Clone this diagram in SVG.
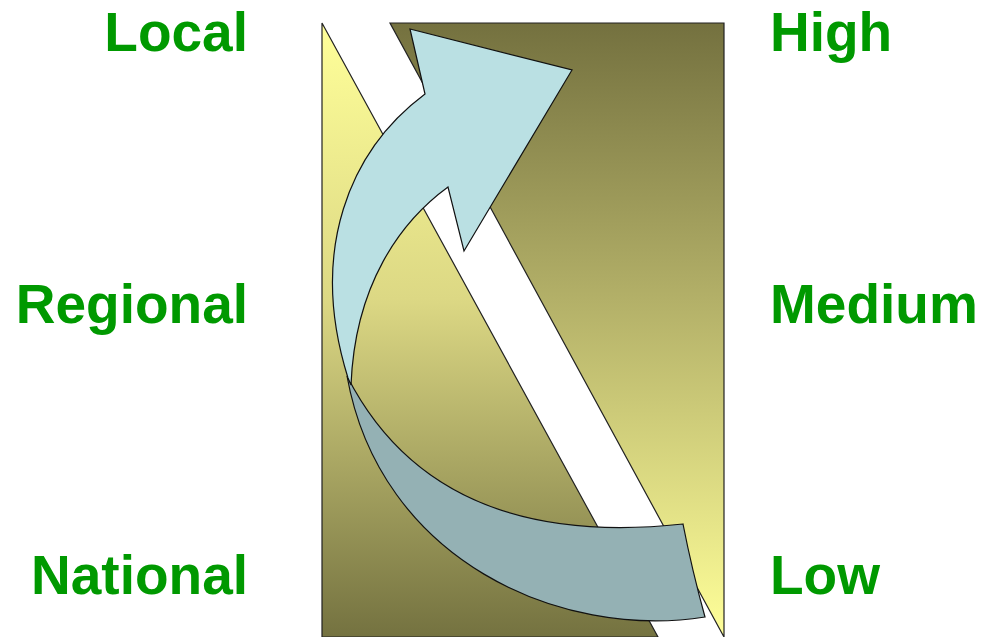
<svg xmlns="http://www.w3.org/2000/svg" width="981" height="637" viewBox="0 0 981 637">
  <defs>
    <linearGradient id="gLeft" gradientUnits="userSpaceOnUse" x1="0" y1="23" x2="0" y2="637">
      <stop offset="0" stop-color="#FFFF99"/>
      <stop offset="0.45" stop-color="#DCD884"/>
      <stop offset="1" stop-color="#747240"/>
    </linearGradient>
    <linearGradient id="gRight" gradientUnits="userSpaceOnUse" x1="0" y1="23" x2="0" y2="637">
      <stop offset="0" stop-color="#74713F"/>
      <stop offset="0.45" stop-color="#B3B068"/>
      <stop offset="1" stop-color="#FFFF99"/>
    </linearGradient>
    <style>
      .lbl { font-family: "Liberation Sans", Arial, sans-serif; font-weight: bold; font-size: 55px; fill: #009900; }
      .tri { stroke: #222222; stroke-width: 1.2; stroke-linejoin: miter; }
      .arr { stroke: #111111; stroke-width: 1.2; stroke-linejoin: miter; }
    </style>
  </defs>
  <rect width="981" height="637" fill="#FFFFFF"/>
  <g id="left-triangle">
    <polygon class="tri" points="322,23 658,637 322,637" fill="url(#gLeft)"/>
  </g>
  <g id="right-triangle">
    <polygon class="tri" points="390,23 724,23 724,637" fill="url(#gRight)"/>
  </g>
  <g id="arrow">
    <path class="arr" fill="#94B1B4" d="M 347,376 C 395,470 490,545 683,524 Q 692,570 705,617 C 560,640 380,560 347,376 Z"/>
    <path class="arr" fill="#BAE0E3" d="M 425,94 L 410,29 L 572,70 L 464,251 L 448,187 C 400,222 355,285 351,385 L 348,378 C 308,250 350,150 425,94 Z"/>
  </g>
  <g id="labels-left">
    <text class="lbl" x="248" y="51" text-anchor="end">Local</text>
    <text class="lbl" x="248" y="323" text-anchor="end">Regional</text>
    <text class="lbl" x="248" y="594" text-anchor="end">National</text>
  </g>
  <g id="labels-right">
    <text class="lbl" x="770" y="51">High</text>
    <text class="lbl" x="770" y="323">Medium</text>
    <text class="lbl" x="770" y="594">Low</text>
  </g>
</svg>
